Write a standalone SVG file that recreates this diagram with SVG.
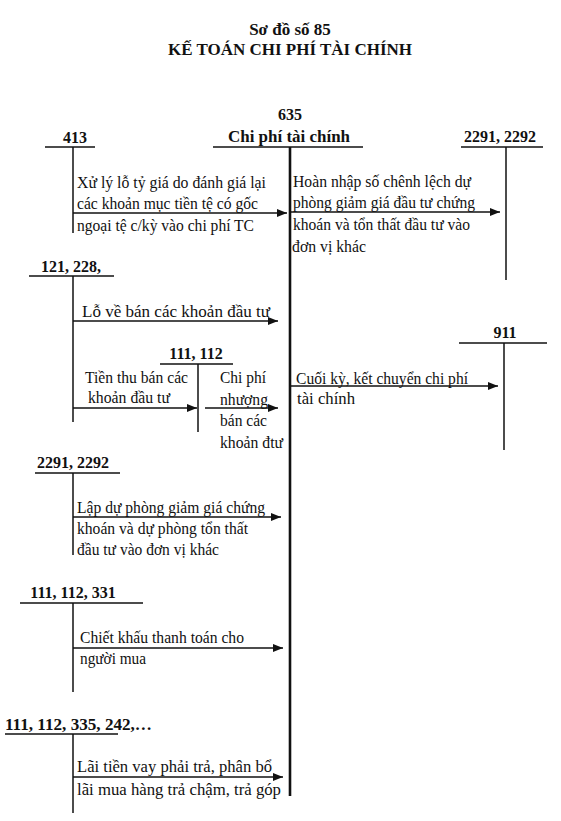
<svg xmlns="http://www.w3.org/2000/svg" width="561" height="821" viewBox="0 0 561 821">
<style>
text{font-family:"Liberation Serif","Times New Roman",serif;fill:#111}
.t{font-size:17px;font-weight:bold}
.lb{font-size:16px;font-weight:bold}
.tx{font-size:16px}
.ln{stroke:#111;stroke-width:1.5;fill:none}
.main{stroke:#111;stroke-width:2.6;fill:none}
.ar{stroke:#111;stroke-width:1.3;fill:none;marker-end:url(#ah)}
</style>
<defs>
<marker id="ah" viewBox="0 0 10 8" refX="10" refY="4" markerWidth="10" markerHeight="8" markerUnits="userSpaceOnUse" orient="auto">
<path d="M0,0 L10,4 L0,8 z" fill="#111"/>
</marker>
</defs>
<rect width="561" height="821" fill="#fff"/>
<g id="title">
<text class="t" x="290" y="35" text-anchor="middle">Sơ đồ số 85</text>
<text class="t" x="290" y="55" text-anchor="middle" textLength="244" lengthAdjust="spacingAndGlyphs">KẾ TOÁN CHI PHÍ TÀI CHÍNH</text>
</g>
<g id="acc635">
<text class="lb" x="290" y="120" text-anchor="middle">635</text>
<text class="lb" x="289" y="142" text-anchor="middle" textLength="122" lengthAdjust="spacingAndGlyphs">Chi phí tài chính</text>
<line class="ln" x1="213" y1="147" x2="363" y2="147"/>
<line class="main" x1="290" y1="147" x2="290" y2="796"/>
</g>
<g id="acc413">
<text class="lb" x="75" y="143" text-anchor="middle">413</text>
<line class="ln" x1="45" y1="147" x2="95" y2="147"/>
<line class="ln" x1="73" y1="147" x2="73" y2="233"/>
</g>
<g id="acc2291r">
<text class="lb" x="500" y="142" text-anchor="middle">2291, 2292</text>
<line class="ln" x1="461" y1="147" x2="543" y2="147"/>
<line class="ln" x1="506" y1="147" x2="506" y2="280"/>
</g>
<g id="acc121">
<text class="lb" x="71" y="272" text-anchor="middle">121, 228,</text>
<line class="ln" x1="29" y1="276" x2="114" y2="276"/>
<line class="ln" x1="73" y1="276" x2="73" y2="422"/>
</g>
<g id="acc111a">
<text class="lb" x="196" y="359" text-anchor="middle">111, 112</text>
<line class="ln" x1="160" y1="364" x2="233" y2="364"/>
<line class="ln" x1="198" y1="364" x2="198" y2="432"/>
</g>
<g id="acc911">
<text class="lb" x="505" y="338" text-anchor="middle">911</text>
<line class="ln" x1="459" y1="343" x2="547" y2="343"/>
<line class="ln" x1="504" y1="343" x2="504" y2="450"/>
</g>
<g id="acc2291l">
<text class="lb" x="73" y="468" text-anchor="middle">2291, 2292</text>
<line class="ln" x1="35" y1="473" x2="120" y2="473"/>
<line class="ln" x1="73" y1="473" x2="73" y2="555"/>
</g>
<g id="acc111b">
<text class="lb" x="73" y="598" text-anchor="middle">111, 112, 331</text>
<line class="ln" x1="20" y1="603" x2="143" y2="603"/>
<line class="ln" x1="73" y1="603" x2="73" y2="692"/>
</g>
<g id="acc111c">
<text class="lb" x="5" y="730" textLength="147" lengthAdjust="spacingAndGlyphs">111, 112, 335, 242,…</text>
<line class="ln" x1="5" y1="734" x2="118" y2="734"/>
<line class="ln" x1="73" y1="734" x2="73" y2="813"/>
</g>
<g id="connectors">
<line class="ar" x1="73" y1="213" x2="287" y2="213"/>
<line class="ar" x1="290" y1="212" x2="500" y2="212"/>
<line class="ar" x1="73" y1="321" x2="278" y2="321"/>
<line class="ar" x1="73" y1="408" x2="197" y2="408"/>
<line class="ar" x1="205" y1="408" x2="278" y2="408"/>
<line class="ar" x1="291" y1="386" x2="498" y2="386"/>
<line class="ar" x1="73" y1="517" x2="281" y2="517"/>
<line class="ar" x1="73" y1="648" x2="283" y2="648"/>
<line class="ar" x1="73" y1="777" x2="283" y2="777"/>
</g>
<g id="labels">
<text class="tx" x="77" y="188" textLength="189" lengthAdjust="spacingAndGlyphs">Xử lý lỗ tỷ giá do đánh giá lại</text>
<text class="tx" x="77" y="209" textLength="181" lengthAdjust="spacingAndGlyphs">các khoản mục tiền tệ có gốc</text>
<text class="tx" x="77" y="231" textLength="177" lengthAdjust="spacingAndGlyphs">ngoại tệ c/kỳ vào chi phí TC</text>
<text class="tx" x="293" y="187" textLength="178" lengthAdjust="spacingAndGlyphs">Hoàn nhập số chênh lệch dự</text>
<text class="tx" x="293" y="208" textLength="182" lengthAdjust="spacingAndGlyphs">phòng giảm giá đầu tư chứng</text>
<text class="tx" x="293" y="230" textLength="177" lengthAdjust="spacingAndGlyphs">khoán và tổn thất đầu tư vào</text>
<text class="tx" x="292" y="252" textLength="74" lengthAdjust="spacingAndGlyphs">đơn vị khác</text>
<text class="tx" x="82" y="317" textLength="188" lengthAdjust="spacingAndGlyphs">Lỗ về bán các khoản đầu tư</text>
<text class="tx" x="85" y="383" textLength="103" lengthAdjust="spacingAndGlyphs">Tiền thu bán các</text>
<text class="tx" x="88" y="403" textLength="82" lengthAdjust="spacingAndGlyphs">khoản đầu tư</text>
<text class="tx" x="220" y="383" textLength="46" lengthAdjust="spacingAndGlyphs">Chi phí</text>
<text class="tx" x="220" y="405" textLength="48" lengthAdjust="spacingAndGlyphs">nhượng</text>
<text class="tx" x="220" y="426" textLength="47" lengthAdjust="spacingAndGlyphs">bán các</text>
<text class="tx" x="220" y="448" textLength="63" lengthAdjust="spacingAndGlyphs">khoản đtư</text>
<text class="tx" x="296" y="384" textLength="172" lengthAdjust="spacingAndGlyphs">Cuối kỳ, kết chuyển chi phí</text>
<text class="tx" x="297" y="404" textLength="58" lengthAdjust="spacingAndGlyphs">tài chính</text>
<text class="tx" x="77" y="513" textLength="188" lengthAdjust="spacingAndGlyphs">Lập dự phòng giảm giá chứng</text>
<text class="tx" x="77" y="534" textLength="171" lengthAdjust="spacingAndGlyphs">khoán và dự phòng tổn thất</text>
<text class="tx" x="77" y="555" textLength="142" lengthAdjust="spacingAndGlyphs">đầu tư vào đơn vị khác</text>
<text class="tx" x="80" y="643" textLength="164" lengthAdjust="spacingAndGlyphs">Chiết khấu thanh toán cho</text>
<text class="tx" x="80" y="664" textLength="66" lengthAdjust="spacingAndGlyphs">người mua</text>
<text class="tx" x="77" y="772" textLength="195" lengthAdjust="spacingAndGlyphs">Lãi tiền vay phải trả, phân bổ</text>
<text class="tx" x="77" y="795" textLength="204" lengthAdjust="spacingAndGlyphs">lãi mua hàng trả chậm, trả góp</text>
</g>
</svg>
